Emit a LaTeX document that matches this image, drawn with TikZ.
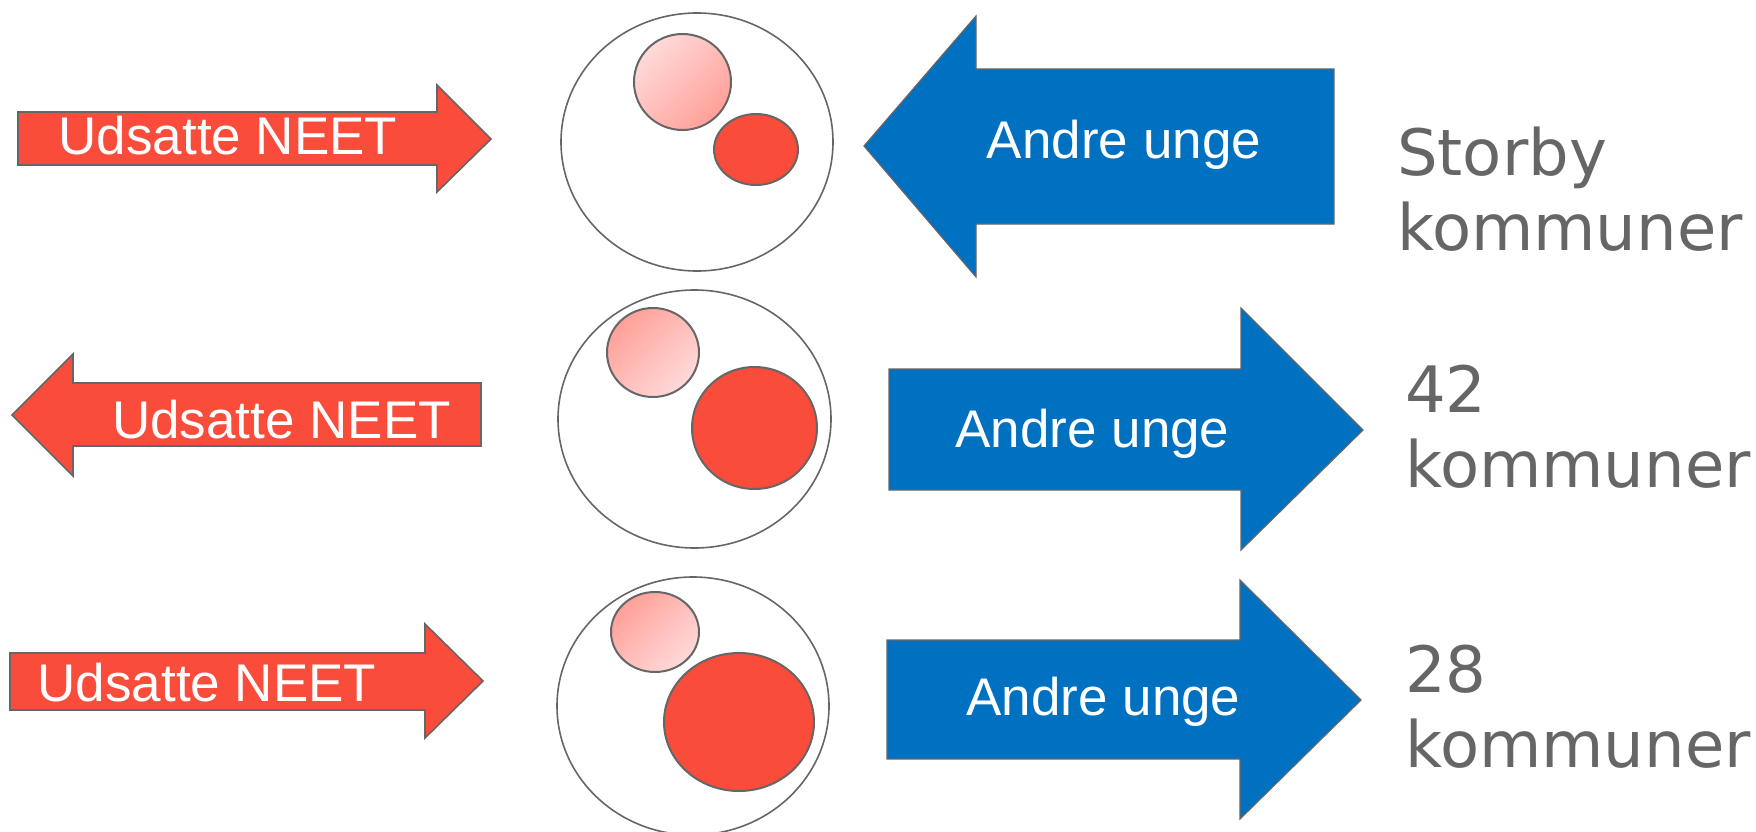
\documentclass[tikz,border=0pt]{standalone}
\usepackage{fontspec}
\setmainfont{Liberation Sans}
\newfontfamily\rightfont{DejaVu Sans}
\definecolor{neetred}{RGB}{249,76,59}
\definecolor{ungeblue}{RGB}{0,112,192}
\definecolor{edgegray}{RGB}{102,102,102}
\definecolor{pinklight}{RGB}{255,218,218}
\definecolor{pinkdark}{RGB}{255,160,152}
\tikzset{
  redarrow/.style={fill=neetred, draw=edgegray, line width=1.6pt, line join=miter},
  bluearrow/.style={fill=ungeblue, draw=edgegray, line width=1.2pt, line join=miter},
  arrowtext/.style={text=white, font=\fontsize{53}{60}\selectfont, anchor=base, inner sep=0pt},
  bigcircle/.style={draw=edgegray, line width=1.6pt, fill=white},
  redblob/.style={fill=neetred, draw=edgegray, line width=2pt},
  pinkA/.style={draw=edgegray, line width=2pt, top color=pinklight, bottom color=pinkdark, shading angle=45},
  pinkB/.style={draw=edgegray, line width=2pt, top color=pinkdark, bottom color=pinklight, shading angle=45},
  sidelabel/.style={text=edgegray, font=\rightfont\fontsize{64}{75}\selectfont, anchor=base west, align=left, inner sep=0pt}
}
\begin{document}
\begin{tikzpicture}[x=1pt,y=-1pt]
\useasboundingbox (0,0) rectangle (1756,832);
\clip (0,0) rectangle (1756,832);
\fill[white] (0,0) rectangle (1756,832);

% ---------- Row 1 ----------
\path[redarrow] (18,112) -- (437,112) -- (437,85) -- (491,139) -- (437,192) -- (437,165) -- (18,165) -- cycle;
\node[arrowtext] (neet1) at (228,154) {Udsatte NEET};

\path[bigcircle] (697,142) ellipse [x radius=136, y radius=129];
\path[pinkA] (682.5,82) ellipse [x radius=48.5, y radius=48];
\path[redblob] (756,149.5) ellipse [x radius=42, y radius=35.5];

\path[bluearrow] (864,146) -- (976,16) -- (976,69) -- (1334,69) -- (1334,224) -- (976,224) -- (976,277) -- cycle;
\node[arrowtext] (unge1) at (1124,159) {Andre unge};

\node[sidelabel] (lab1) at (1397,250) {Storby\\kommuner};

% ---------- Row 2 ----------
\path[redarrow] (12,415) -- (73,354) -- (73,383) -- (481,383) -- (481,446) -- (73,446) -- (73,476) -- cycle;
\node[arrowtext] (neet2) at (281.5,438) {Udsatte NEET};

\path[bigcircle] (694.5,419) ellipse [x radius=136.5, y radius=129];
\path[pinkB] (653,352.5) ellipse [x radius=46, y radius=44.5];
\path[redblob] (754.5,428) ellipse [x radius=62.5, y radius=61];

\path[bluearrow] (889,369) -- (1241,369) -- (1241,308) -- (1363,430) -- (1241,550) -- (1241,490) -- (889,490) -- cycle;
\node[arrowtext] (unge2) at (1092.5,447) {Andre unge};

\node[sidelabel] (lab2) at (1405,487) {42\\kommuner};

% ---------- Row 3 ----------
\path[redarrow] (10,653) -- (425,653) -- (425,624) -- (483,681) -- (425,738) -- (425,710) -- (10,710) -- cycle;
\node[arrowtext] (neet3) at (207,701) {Udsatte NEET};

\path[bigcircle] (693,706) ellipse [x radius=136, y radius=129];
\path[pinkB] (655,632) ellipse [x radius=44, y radius=40];
\path[redblob] (739,722) ellipse [x radius=75, y radius=69];

\path[bluearrow] (887,640) -- (1240,640) -- (1240,580) -- (1361,700) -- (1240,819) -- (1240,759) -- (887,759) -- cycle;
\node[arrowtext] (unge3) at (1103.5,715) {Andre unge};

\node[sidelabel] (lab3) at (1405,767) {28\\kommuner};
\end{tikzpicture}
\end{document}
